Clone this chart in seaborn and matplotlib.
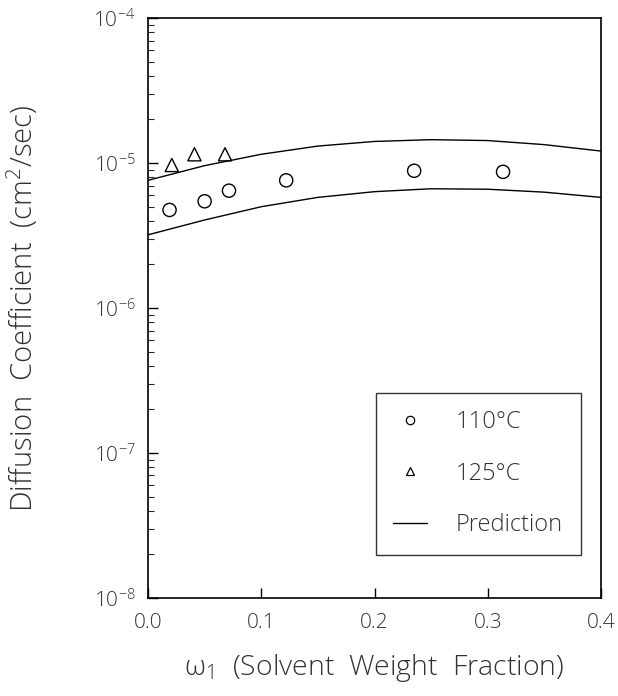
import numpy as np
import pandas as pd
import seaborn as sns
import matplotlib.pyplot as plt
from matplotlib.lines import Line2D

# measured data
w_110 = [0.019, 0.050, 0.0715, 0.122, 0.235, 0.3135]
d_110 = [4.75e-6, 5.45e-6, 6.45e-6, 7.6e-6, 8.85e-6, 8.7e-6]
w_125 = [0.021, 0.041, 0.068]
d_125 = [9.7e-6, 1.15e-5, 1.15e-5]

# prediction bounds
w_pred = [0.0, 0.05, 0.10, 0.15, 0.20, 0.25, 0.30, 0.35, 0.40]
d_upper = [7.6e-6, 9.6e-6, 1.15e-5, 1.31e-5, 1.41e-5, 1.45e-5, 1.43e-5, 1.34e-5, 1.21e-5]
d_lower = [3.2e-6, 4.05e-6, 5.0e-6, 5.8e-6, 6.35e-6, 6.65e-6, 6.6e-6, 6.3e-6, 5.8e-6]

sns.set_theme(style="ticks")
FONT = "Open Sans"
plt.rcParams["font.family"] = [FONT, "DejaVu Sans"]
plt.rcParams["font.weight"] = "light"
plt.rcParams["axes.labelweight"] = "light"
plt.rcParams["mathtext.fontset"] = "custom"
plt.rcParams["mathtext.rm"] = FONT + ":light"
plt.rcParams["mathtext.it"] = FONT + ":italic:light"
plt.rcParams["mathtext.default"] = "regular"

pts = pd.concat([
    pd.DataFrame({"w": w_110, "D": d_110, "T": "110"}),
    pd.DataFrame({"w": w_125, "D": d_125, "T": "125"}),
])
pred = pd.concat([
    pd.DataFrame({"w": w_pred, "D": d_upper, "b": "upper"}),
    pd.DataFrame({"w": w_pred, "D": d_lower, "b": "lower"}),
])

fig = plt.figure(figsize=(6.18, 6.96), dpi=100)
ax = fig.add_axes([0.2395, 0.1408, 0.733, 0.8332])

sns.lineplot(data=pred, x="w", y="D", units="b", estimator=None, color="black",
             lw=1.0, ax=ax, legend=False)
sns.scatterplot(data=pts, x="w", y="D", style="T", markers={"110": "o", "125": "^"},
                s=90, facecolor="none", edgecolor="black", linewidth=1.0,
                ax=ax, legend=False)

ax.set_yscale("log")
ax.set_xlim(0, 0.4)
ax.set_ylim(1e-8, 1e-4)
ax.set_xticks([0.0, 0.1, 0.2, 0.3, 0.4])
ax.set_xticklabels(["0.0", "0.1", "0.2", "0.3", "0.4"])
ax.set_yticks([1e-8, 1e-7, 1e-6, 1e-5, 1e-4])
ax.set_yticklabels([r"$10^{-8}$", r"$10^{-7}$", r"$10^{-6}$", r"$10^{-5}$", r"$10^{-4}$"])
ax.tick_params(axis="both", which="major", direction="in", length=7, width=1,
               labelsize=15, colors="black", labelcolor="#333333", pad=9)
ax.tick_params(axis="x", which="major", pad=11)
ax.tick_params(axis="y", which="minor", direction="in", length=4, width=0.8)
ax.tick_params(axis="x", which="minor", bottom=False)
for sp in ax.spines.values():
    sp.set_color("black")
    sp.set_linewidth(1.2)

ax.set_xlabel(r"$\omega_{1}$  (Solvent  Weight  Fraction)", fontsize=20.5,
              color="#333333")
ax.set_ylabel("Diffusion  Coefficient  (cm$^{2}$/sec)", fontsize=21,
              color="#333333")
ax.xaxis.set_label_coords(0.5, -0.093)
ax.yaxis.set_label_coords(-0.238, 0.50)

handles = [
    Line2D([], [], ls="none", marker="o", mfc="none", mec="black", ms=6, mew=0.9),
    Line2D([], [], ls="none", marker="^", mfc="none", mec="black", ms=6, mew=0.9),
    Line2D([], [], color="black", lw=1.0),
]
leg = ax.legend(handles, ["110\u00b0C", "125\u00b0C", "Prediction"],
                loc="lower right", bbox_to_anchor=(0.955, 0.075), fontsize=17,
                frameon=True, fancybox=False, labelspacing=1.15, borderpad=0.75,
                handlelength=1.45, handletextpad=1.2, borderaxespad=0)
leg.get_frame().set_edgecolor("black")
leg.get_frame().set_linewidth(1.0)
for t in leg.get_texts():
    t.set_color("#333333")

fig.savefig("out.png", dpi=100)
